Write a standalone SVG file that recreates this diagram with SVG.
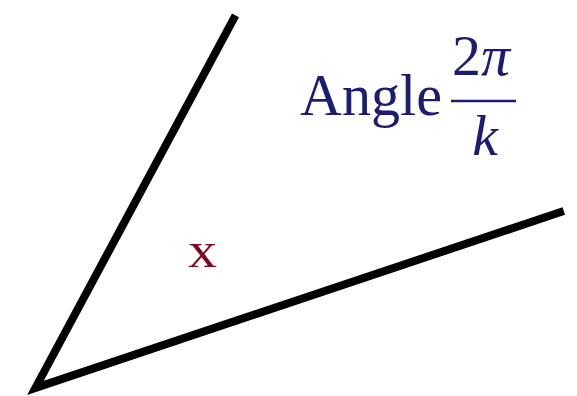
<svg xmlns="http://www.w3.org/2000/svg" width="577" height="396" viewBox="0 0 577 396">
<style>
.edge{fill:none;stroke:#000;stroke-width:8;stroke-linejoin:miter;stroke-linecap:butt}
.lbl{font-family:"Liberation Serif","DejaVu Serif",serif;fill:#1c1c72}
.mark{font-family:"Liberation Serif","DejaVu Serif",serif;fill:#7a0c22}
</style>
<rect width="577" height="396" fill="#fff"/>
<g id="connectors">
<polyline class="edge" points="235.5,15.3 35.4,387.9 563.8,211"/>
</g>
<g id="label">
<text class="lbl" x="300" y="115" font-size="60" textLength="142" lengthAdjust="spacingAndGlyphs">Angle</text>
<text class="lbl" x="481" y="75" font-size="58" text-anchor="middle">2<tspan font-style="italic">π</tspan></text>
<line x1="451" y1="101" x2="516" y2="101" stroke="#1c1c72" stroke-width="2.6"/>
<text class="lbl" x="485" y="155" font-size="58" font-style="italic" text-anchor="middle">k</text>
</g>
<g id="point">
<text class="mark" x="188" y="267" font-size="50" textLength="29" lengthAdjust="spacingAndGlyphs">x</text>
</g>
</svg>
